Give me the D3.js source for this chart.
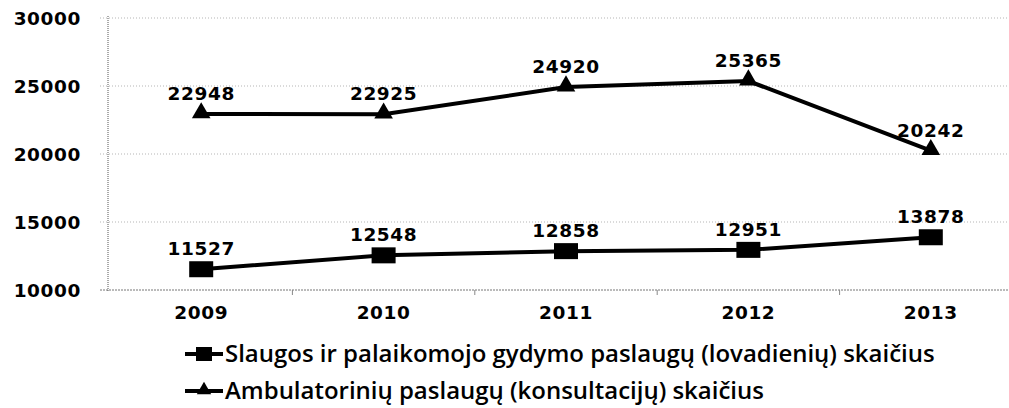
<!DOCTYPE html>
<html>
<head>
<meta charset="utf-8">
<script src="https://cdn.jsdelivr.net/npm/d3@7"></script>
<style>
  body { margin: 0; background: #fff; }
  svg { display: block; }
</style>
</head>
<body>
<svg id="chart"></svg>
<script>
// Chart data
let years = ['2009', '2010', '2011', '2012', '2013'];
let slaugosValues = [11527, 12548, 12858, 12951, 13878];
let ambulatValues = [22948, 22925, 24920, 25365, 20242];
let yTicks = [10000, 15000, 20000, 25000, 30000];
let seriesNames = [
    'Slaugos ir palaikomojo gydymo paslaugų (lovadienių) skaičius',
    'Ambulatorinių paslaugų (konsultacijų) skaičius'
];

let width = 1009;
let height = 408;

let svg = d3.select('#chart')
    .attr('width', width)
    .attr('height', height);

let x = d3.scaleBand()
    .domain(years)
    .range([110, 1022])
    .padding(0);

let y = d3.scaleLinear()
    .domain([10000, 30000])
    .range([290, 18]);

let cx = d => x(d) + x.bandwidth() / 2;

let numFont = 'DejaVu Sans, Verdana, sans-serif';

// horizontal gridlines (dotted, as in the scan)
svg.append('g')
    .selectAll('line')
    .data(yTicks)
    .enter().append('line')
    .attr('x1', 100)
    .attr('x2', width)
    .attr('y1', d => y(d))
    .attr('y2', d => y(d))
    .attr('stroke', d => d === 10000 ? '#777' : '#b5b5b5')
    .attr('stroke-width', 1)
    .attr('stroke-dasharray', d => d === 10000 ? '2,1' : '1,2');

// vertical axis line
svg.append('line')
    .attr('x1', 108).attr('x2', 108)
    .attr('y1', y(30000) - 2).attr('y2', y(10000) + 2)
    .attr('stroke', '#555')
    .attr('stroke-dasharray', '1,1');

// x tick marks between categories
svg.append('g')
    .selectAll('line')
    .data(years.slice(1))
    .enter().append('line')
    .attr('x1', d => x(d))
    .attr('x2', d => x(d))
    .attr('y1', y(10000))
    .attr('y2', y(10000) + 5)
    .attr('stroke', '#888');

// y axis labels
svg.append('g')
    .selectAll('text')
    .data(yTicks)
    .enter().append('text')
    .attr('x', 81)
    .attr('y', d => y(d))
    .attr('dy', '0.36em')
    .attr('text-anchor', 'end')
    .style('font-family', numFont)
    .style('font-weight', 'bold')
    .style('font-size', '18.5px')
    .style('letter-spacing', '0.6px')
    .text(d => d);

// x axis labels
svg.append('g')
    .selectAll('text')
    .data(years)
    .enter().append('text')
    .attr('x', d => cx(d))
    .attr('y', 319)
    .attr('text-anchor', 'middle')
    .style('font-family', numFont)
    .style('font-weight', 'bold')
    .style('font-size', '18.5px')
    .style('letter-spacing', '0.6px')
    .text(d => d);

let line = d3.line()
    .x(d => cx(d.year))
    .y(d => y(d.value));

let triangle = d3.symbol().type(d3.symbolTriangle).size(150);

function drawSeries(values, marker) {
    let pts = years.map((yr, i) => ({ year: yr, value: values[i] }));
    let g = svg.append('g');

    g.append('path')
        .datum(pts)
        .attr('d', line)
        .attr('fill', 'none')
        .attr('stroke', '#000')
        .attr('stroke-width', 4);

    if (marker === 'square') {
        g.selectAll('rect')
            .data(pts)
            .enter().append('rect')
            .attr('x', d => cx(d.year) - 12)
            .attr('y', d => y(d.value) - 8)
            .attr('width', 24)
            .attr('height', 16)
            .attr('fill', '#000');
    } else {
        g.selectAll('path.tri')
            .data(pts)
            .enter().append('path')
            .attr('class', 'tri')
            .attr('d', triangle)
            .attr('transform', d => `translate(${cx(d.year)},${y(d.value) - 1})`)
            .attr('fill', '#000');
    }

    g.selectAll('text')
        .data(pts)
        .enter().append('text')
        .attr('x', d => cx(d.year))
        .attr('y', d => y(d.value) - 14)
        .attr('text-anchor', 'middle')
        .style('font-family', numFont)
        .style('font-weight', 'bold')
        .style('font-size', '18.5px')
        .style('letter-spacing', '0.6px')
        .text(d => d.value);
}

drawSeries(slaugosValues, 'square');
drawSeries(ambulatValues, 'triangle');

// legend
let legend = svg.append('g');
let legendRows = [
    { name: seriesNames[0], marker: 'square', y: 354 },
    { name: seriesNames[1], marker: 'triangle', y: 391 }
];

legendRows.forEach(function (row) {
    legend.append('line')
        .attr('x1', 185).attr('x2', 223)
        .attr('y1', row.y).attr('y2', row.y)
        .attr('stroke', '#000')
        .attr('stroke-width', 4);
    if (row.marker === 'square') {
        legend.append('rect')
            .attr('x', 196).attr('y', row.y - 7)
            .attr('width', 16).attr('height', 14)
            .attr('fill', '#000');
    } else {
        legend.append('path')
            .attr('d', d3.symbol().type(d3.symbolTriangle).size(90)())
            .attr('transform', `translate(204,${row.y - 1})`)
            .attr('fill', '#000');
    }
    legend.append('text')
        .attr('class', 'legend-label')
        .attr('x', 225)
        .attr('y', row.y)
        .attr('dy', '0.35em')
        .style('font-family', 'Open Sans, sans-serif')
        .style('font-weight', 600)
        .style('font-size', '19px')
        .text(row.name);
});

// fit first legend label to its width in the picture (~710px)
let first = legend.select('.legend-label').node();
let w = first.getComputedTextLength();
let fs = 19 * 710 / w;
legend.selectAll('.legend-label').style('font-size', fs + 'px');
</script>
</body>
</html>
